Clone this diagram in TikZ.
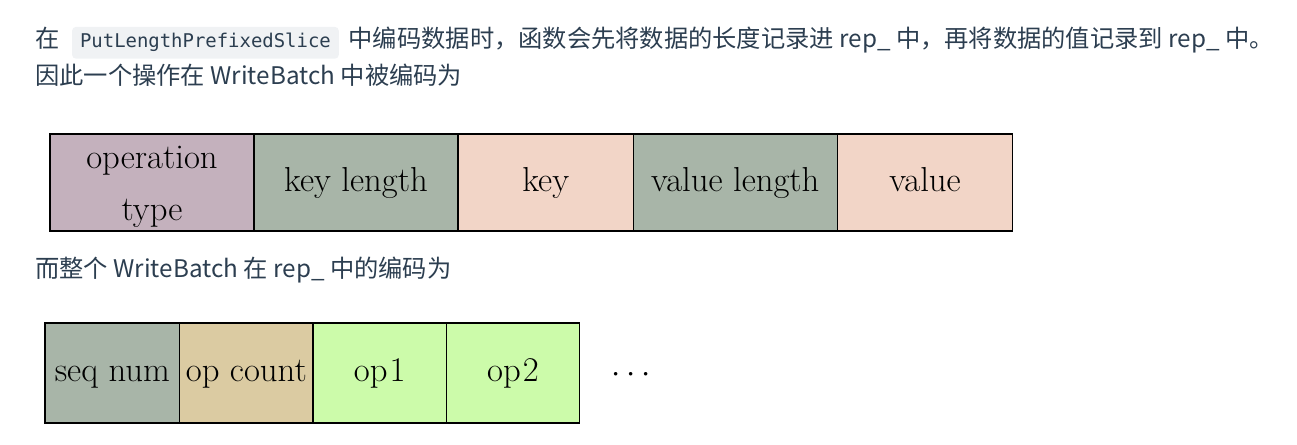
\documentclass[tikz,border=0pt]{standalone}
\usepackage{fontspec}
\newfontfamily\cjk{Noto Sans CJK SC}
\newfontfamily\codefont{DejaVu Sans Mono}
\usetikzlibrary{positioning}
\definecolor{textcol}{HTML}{2C3E50}
\definecolor{codebg}{HTML}{F0F2F4}
\definecolor{optype}{HTML}{C4B1BD}
\definecolor{lengthcol}{HTML}{A8B5A8}
\definecolor{datacol}{HTML}{F2D5C7}
\definecolor{countcol}{HTML}{DBCBA2}
\definecolor{opcol}{HTML}{CCFBAA}
\tikzset{
  para/.style={anchor=base west, inner sep=0pt, text=textcol,
    font=\cjk\fontsize{18.2}{22}\selectfont},
  cellbase/.style={draw=black, line width=0.8pt, outer sep=0pt, inner sep=0pt,
    align=center, font=\fontsize{26}{31}\selectfont},
  cell/.style={cellbase, text height=19.5pt, text depth=6.5pt},
  wide/.style={minimum width=153pt, minimum height=72.75pt},
  narrow/.style={minimum width=131.5pt, minimum height=72.75pt}
}
\begin{document}
\begin{tikzpicture}[x=0.75pt, y=-0.75pt]
  \useasboundingbox (0,0) rectangle (1297,445);
  % text above the first layout
  \node[para] (zai) at (35,48) {在};
  \node[para, right=9pt of zai.base east, anchor=base west, fill=codebg,
    rounded corners=3pt, inner xsep=6pt, inner ysep=5pt,
    font=\codefont\fontsize{14.2}{17}\selectfont] (code) {PutLengthPrefixedSlice};
  \node[para, right=7pt of code.base east, anchor=base west] (rest)
    {中编码数据时，函数会先将数据的长度记录进 rep\_ 中，再将数据的值记录到 rep\_ 中。};
  \node[para] (intro) at (35,85) {因此一个操作在 WriteBatch 中被编码为};
  % one operation
  \node[cellbase, wide, fill=optype, anchor=north west] (type) at (50,134)
    {\rule{0pt}{24pt}operation\\[8pt]type};
  \node[cell, wide, fill=lengthcol, right=0pt of type] (keylen) {key length};
  \node[cell, narrow, fill=datacol, right=0pt of keylen] (key) {key};
  \node[cell, wide, fill=lengthcol, right=0pt of key] (vallen) {value length};
  \node[cell, narrow, fill=datacol, right=0pt of vallen] (val) {value};
  % text above the batch layout
  \node[para] (batch) at (35,278) {而整个 WriteBatch 在 rep\_ 中的编码为};
  % whole batch
  \node[cell, fill=lengthcol, minimum width=101pt, minimum height=75pt, anchor=north west]
    (seq) at (45,323) {seq num};
  \node[cell, fill=countcol, minimum width=100pt, minimum height=75pt, right=0pt of seq] (count) {op count};
  \node[cell, fill=opcol, minimum width=100pt, minimum height=75pt, right=0pt of count] (op1) {op\kern1.5pt1};
  \node[cell, fill=opcol, minimum width=100pt, minimum height=75pt, right=0pt of op1] (op2) {op\kern1.5pt2};
  \node[font=\fontsize{26}{31}\selectfont, inner sep=0pt] (dots) at (631,375) {$\cdotp\cdotp\cdotp$};
\end{tikzpicture}
\end{document}
